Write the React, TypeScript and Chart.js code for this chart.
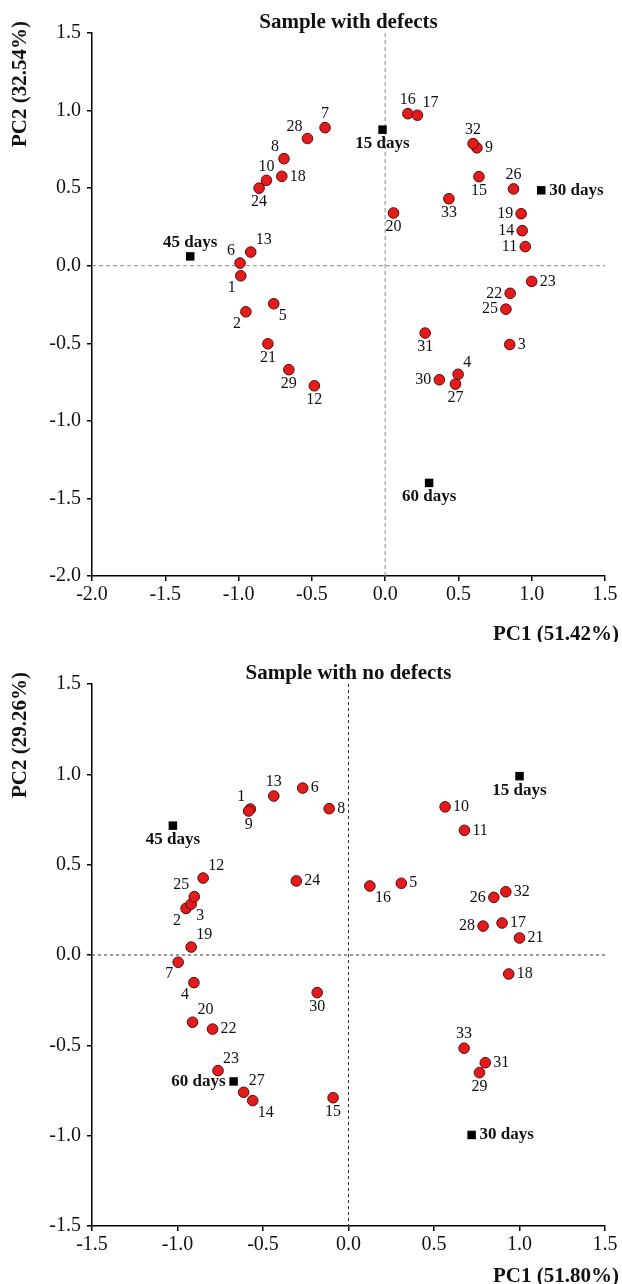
import React, { useEffect, useRef } from "react";
import { Chart, registerables } from "chart.js";

Chart.register(...registerables);

// ---------- Data: Sample with defects ----------
const defectsIds = ["1","2","3","4","5","6","7","8","9","10","11","12","13","14","15","16","17","18","19","20","21","22","23","24","25","26","27","28","29","30","31","32","33"];
const defectsPC1 = [-0.985,-0.95,0.85,0.498,-0.76,-0.99,-0.41,-0.69,0.626,-0.81,0.956,-0.483,-0.917,0.935,0.64,0.155,0.22,-0.705,0.928,0.057,-0.8,0.853,1.0,-0.86,0.824,0.876,0.48,-0.53,-0.657,0.37,0.273,0.6,0.435];
const defectsPC2 = [-0.065,-0.297,-0.508,-0.7,-0.245,0.017,0.89,0.69,0.76,0.55,0.123,-0.774,0.088,0.226,0.574,0.98,0.97,0.576,0.335,0.34,-0.503,-0.178,-0.101,0.5,-0.28,0.495,-0.763,0.82,-0.67,-0.735,-0.434,0.787,0.432];
const defectsLabelPos = ["bl","bl","r","tr","br","tl","t","tl","r","t","l","b","tr","l","b","t","tr","r","l","b","b","l","r","b","l","t","b","tl","b","l","b","t","b"];
const defectsDays = ["15 days","30 days","45 days","60 days"];
const defectsDaysPC1 = [-0.018,1.065,-1.33,0.3];
const defectsDaysPC2 = [0.877,0.486,0.06,-1.4];
const defectsDaysPos = ["b","r","t","b"];

// ---------- Data: Sample with no defects ----------
const noDefectsIds = ["1","2","3","4","5","6","7","8","9","10","11","12","13","14","15","16","17","18","19","20","21","22","23","24","25","26","27","28","29","30","31","32","33"];
const noDefectsPC1 = [-0.574,-0.95,-0.92,-0.904,0.309,-0.268,-0.996,-0.113,-0.584,0.565,0.678,-0.85,-0.437,-0.56,-0.09,0.125,0.898,0.937,-0.92,-0.912,1.0,-0.795,-0.763,-0.305,-0.902,0.85,-0.613,0.787,0.766,-0.183,0.8,0.92,0.676];
const noDefectsPC2 = [0.808,0.258,0.282,-0.153,0.397,0.924,-0.04,0.81,0.797,0.82,0.69,0.426,0.88,-0.806,-0.79,0.382,0.177,-0.105,0.044,-0.372,0.094,-0.41,-0.64,0.41,0.323,0.319,-0.76,0.16,-0.651,-0.208,-0.596,0.35,-0.516];
const noDefectsLabelPos = ["tl","bl","br","bl","r","r","bl","r","b","r","r","tr","t","br","b","br","r","r","tr","tr","r","r","tr","r","tl","l","tr","l","b","b","r","r","t"];
const noDefectsDays = ["15 days","30 days","45 days","60 days"];
const noDefectsDaysPC1 = [1.0,0.72,-1.027,-0.672];
const noDefectsDaysPC2 = [0.99,-0.996,0.716,-0.7];
const noDefectsDaysPos = ["b","r","b","l"];

const FONT = '"Liberation Serif", "Times New Roman", serif';

type PanelProps = {
  title: string;
  xTitle: string;
  yTitle: string;
  ids: string[];
  pc1: number[];
  pc2: number[];
  labelPos: string[];
  days: string[];
  daysPC1: number[];
  daysPC2: number[];
  daysPos: string[];
  min: number;
  plotTop: number;
  plotBottom: number;
  height: number;
  dashColor: string;
  dash: number[];
};

const OFFS: Record<string, [number, number, CanvasTextAlign]> = {
  t: [0, -14, "center"],
  b: [0, 14, "center"],
  l: [-8, 0, "right"],
  r: [8, 0, "left"],
  tl: [-5, -12, "right"],
  tr: [5, -12, "left"],
  bl: [-5, 12, "right"],
  br: [5, 12, "left"],
};

function Panel(p: PanelProps) {
  const ref = useRef<HTMLCanvasElement | null>(null);
  useEffect(() => {
    document.body.style.margin = "0";
    const canvas = ref.current!;
    const decor = {
      id: "decor",
      beforeDatasetsDraw(chart: any) {
        const { ctx, chartArea, scales } = chart;
        const x0 = scales.x.getPixelForValue(0);
        const y0 = scales.y.getPixelForValue(0);
        ctx.save();
        ctx.strokeStyle = p.dashColor;
        ctx.lineWidth = 1;
        ctx.setLineDash(p.dash);
        ctx.beginPath();
        ctx.moveTo(x0, chartArea.top);
        ctx.lineTo(x0, chartArea.bottom);
        ctx.moveTo(chartArea.left, y0);
        ctx.lineTo(chartArea.right, y0);
        ctx.stroke();
        ctx.restore();
      },
      afterDatasetsDraw(chart: any) {
        const { ctx, chartArea } = chart;
        ctx.save();
        ctx.fillStyle = "#111";
        ctx.textBaseline = "middle";
        const drawSet = (di: number, texts: string[], pos: string[], font: string) => {
          const meta = chart.getDatasetMeta(di);
          ctx.font = font;
          meta.data.forEach((el: any, i: number) => {
            const [dx, dy, al] = OFFS[pos[i]] || OFFS.r;
            ctx.textAlign = al;
            ctx.fillText(texts[i], el.x + dx, el.y + dy);
          });
        };
        drawSet(0, p.ids, p.labelPos, `16px ${FONT}`);
        drawSet(1, p.days, p.daysPos, `bold 17px ${FONT}`);
        // chart title
        ctx.font = `bold 21px ${FONT}`;
        ctx.textAlign = "center";
        ctx.fillText(p.title, (chartArea.left + chartArea.right) / 2, chartArea.top - 10);
        // x title
        ctx.textAlign = "right";
        ctx.fillText(p.xTitle, 619, p.height - 7);
        // y title
        ctx.translate(21, chartArea.top + 51);
        ctx.rotate(-Math.PI / 2);
        ctx.textAlign = "center";
        ctx.fillText(p.yTitle, 0, 0);
        ctx.restore();
      },
    };
    const tickFont = { family: FONT, size: 20 };
    const chart = new Chart(canvas, {
      type: "scatter",
      data: {
        datasets: [
          {
            data: p.pc1.map((v, i) => ({ x: v, y: p.pc2[i] })),
            backgroundColor: "#e31b1b",
            borderColor: "#5c0a0a",
            borderWidth: 1,
            pointRadius: 5.3,
            pointStyle: "circle",
          },
          {
            data: p.daysPC1.map((v, i) => ({ x: v, y: p.daysPC2[i] })),
            backgroundColor: "#000",
            borderColor: "#000",
            borderWidth: 0,
            pointRadius: 6,
            pointStyle: "rect",
          },
        ],
      },
      options: {
        responsive: false,
        animation: false,
        events: [],
        layout: { padding: { left: 0, top: p.plotTop, right: 17, bottom: 0 } },
        plugins: { legend: { display: false }, tooltip: { enabled: false }, title: { display: false } },
        scales: {
          x: {
            type: "linear",
            min: p.min,
            max: 1.5,
            afterFit: (s: any) => { s.height = p.height - p.plotBottom; },
            ticks: {
              stepSize: 0.5,
              autoSkip: false,
              maxRotation: 0,
              padding: 2,
              color: "#111",
              font: tickFont,
              callback: (v: any) => Number(v).toFixed(1),
            },
            grid: { drawOnChartArea: false, drawTicks: true, tickLength: 5, color: "#000", lineWidth: 1.5 },
            border: { display: true, color: "#000", width: 1.5 },
          },
          y: {
            type: "linear",
            min: p.min,
            max: 1.5,
            afterFit: (s: any) => { s.width = 92; },
            ticks: {
              stepSize: 0.5,
              autoSkip: false,
              padding: 6,
              color: "#111",
              font: tickFont,
              callback: (v: any) => Number(v).toFixed(1),
            },
            grid: { drawOnChartArea: false, drawTicks: true, tickLength: 5, color: "#000", lineWidth: 1.5 },
            border: { display: true, color: "#000", width: 1.5 },
          },
        },
      },
      plugins: [decor],
    } as any);
    return () => chart.destroy();
  }, []);
  return <canvas ref={ref} width={622} height={p.height} style={{ display: "block", width: 622, height: p.height }} />;
}

export default function App() {
  return (
    <div style={{ width: 622, background: "#fff" }}>
      <Panel
        title="Sample with defects"
        xTitle="PC1 (51.42%)"
        yTitle="PC2 (32.54%)"
        ids={defectsIds}
        pc1={defectsPC1}
        pc2={defectsPC2}
        labelPos={defectsLabelPos}
        days={defectsDays}
        daysPC1={defectsDaysPC1}
        daysPC2={defectsDaysPC2}
        daysPos={defectsDaysPos}
        min={-2}
        plotTop={33}
        plotBottom={576}
        height={642}
        dashColor="#8a8a8a"
        dash={[4, 3]}
      />
      <Panel
        title="Sample with no defects"
        xTitle="PC1 (51.80%)"
        yTitle="PC2 (29.26%)"
        ids={noDefectsIds}
        pc1={noDefectsPC1}
        pc2={noDefectsPC2}
        labelPos={noDefectsLabelPos}
        days={noDefectsDays}
        daysPC1={noDefectsDaysPC1}
        daysPC2={noDefectsDaysPC2}
        daysPos={noDefectsDaysPos}
        min={-1.5}
        plotTop={42}
        plotBottom={584}
        height={642}
        dashColor="#333"
        dash={[3, 3]}
      />
    </div>
  );
}
